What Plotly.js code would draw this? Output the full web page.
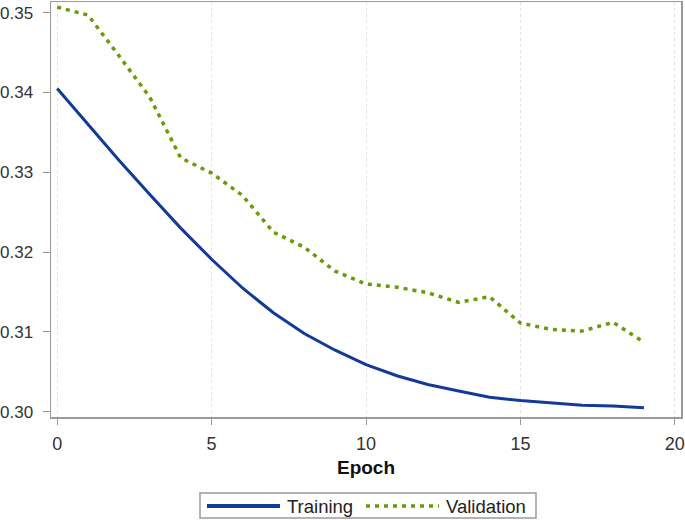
<!DOCTYPE html>
<html>
<head>
<meta charset="utf-8">
<script src="https://cdn.plot.ly/plotly-3.0.1.min.js"></script>
<style>html,body{margin:0;padding:0;background:#fff;}#chart{width:685px;height:520px;}</style>
</head>
<body>
<div id="chart"></div>
<script>
const epochs = [0,1,2,3,4,5,6,7,8,9,10,11,12,13,14,15,16,17,18,19];
const training = [0.3405,0.3360,0.3315,0.3272,0.3230,0.3191,0.3155,0.3124,0.3098,0.3077,0.3059,0.3045,0.3034,0.3026,0.3018,0.3014,0.3011,0.3008,0.3007,0.3005];
const validation = [0.3507,0.3497,0.3446,0.3394,0.3318,0.3299,0.3271,0.3225,0.3206,0.3176,0.3160,0.3156,0.3149,0.3137,0.3144,0.3111,0.3103,0.3101,0.3112,0.3087];
const xTicks = [0,5,10,15,20];
const yTicks = [0.30,0.31,0.32,0.33,0.34,0.35];
const seriesNames = ['Training', 'Validation'];
const seriesColors = ['#123a96', '#6a9a0a'];
const validationDash = '4px,5px';

const font = 'Liberation Sans, Arial, sans-serif';
const M = {l: 51, r: 4, t: 2, b: 103};
const W = 685, H = 520;
const pw = W - M.l - M.r, ph = H - M.t - M.b;
// pixel -> paper helpers for the legend box (layout only)
const px = v => (v - M.l) / pw;
const py = v => (H - M.b - v) / ph;

const traces = [
  {x: epochs, y: training, name: seriesNames[0], mode: 'lines', type: 'scatter',
   line: {color: seriesColors[0], width: 3}},
  {x: epochs, y: validation, name: seriesNames[1], mode: 'lines', type: 'scatter',
   line: {color: seriesColors[1], width: 3.5, dash: validationDash}}
];

const legY = py(506);
const shapes = [
  {type: 'rect', xref: 'paper', yref: 'paper', x0: px(200), x1: px(536), y0: py(518), y1: py(493),
   line: {color: '#9a9a9a', width: 1.5}, fillcolor: '#fff'},
  {type: 'line', xref: 'paper', yref: 'paper', x0: px(207), x1: px(280), y0: legY, y1: legY,
   line: {color: seriesColors[0], width: 4}},
  {type: 'line', xref: 'paper', yref: 'paper', x0: px(366), x1: px(439), y0: legY, y1: legY,
   line: {color: seriesColors[1], width: 3.5, dash: validationDash}}
];
const annotations = [
  {xref: 'paper', yref: 'paper', x: px(285), y: legY, xanchor: 'left', yanchor: 'middle',
   text: seriesNames[0], showarrow: false, font: {size: 18.5, color: '#222', family: font}},
  {xref: 'paper', yref: 'paper', x: px(444), y: legY, xanchor: 'left', yanchor: 'middle',
   text: seriesNames[1], showarrow: false, font: {size: 18.5, color: '#222', family: font}}
];

const layout = {
  width: W, height: H,
  margin: M,
  paper_bgcolor: '#fff', plot_bgcolor: '#fff',
  font: {family: font, color: '#333', size: 17},
  showlegend: false,
  shapes: shapes,
  annotations: annotations,
  xaxis: {range: [-0.2, 20.2], tickvals: xTicks, ticktext: xTicks.map(String),
          showgrid: true, gridcolor: '#e2e2e2', griddash: 'dot', gridwidth: 1,
          showline: true, linecolor: '#9a9a9a', linewidth: 1.5, mirror: true,
          ticks: 'outside', ticklen: 6, tickcolor: '#9a9a9a', zeroline: false,
          ticklabelstandoff: 4,
          tickfont: {size: 18, color: '#333'},
          title: {text: '<b>Epoch</b>', font: {size: 19, color: '#111'}, standoff: 7}},
  yaxis: {range: [0.29933, 0.35134], tickvals: yTicks, tickformat: '.2f',
          showgrid: false, showline: true, linecolor: '#9a9a9a', linewidth: 1.5, mirror: true,
          ticks: 'outside', ticklen: 7, tickcolor: '#9a9a9a', zeroline: false,
          ticklabelstandoff: 6,
          tickfont: {size: 17, color: '#333'}}
};
Plotly.newPlot('chart', traces, layout, {displayModeBar: false, staticPlot: true});
</script>
</body>
</html>
